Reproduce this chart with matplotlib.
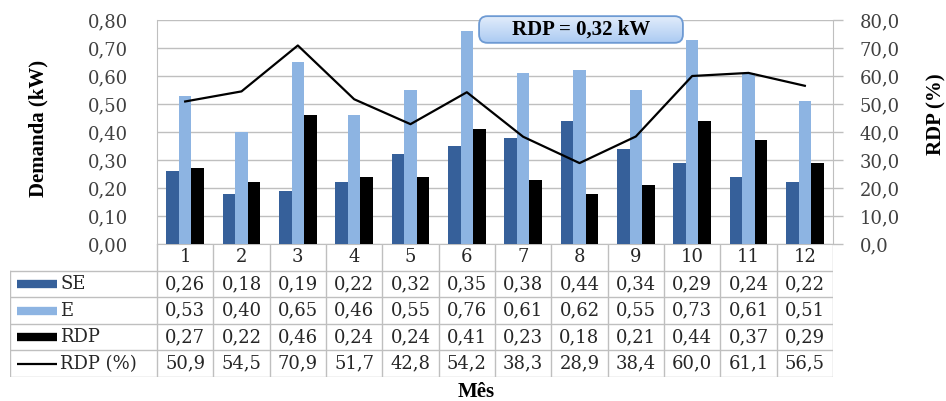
import numpy as np
import matplotlib
matplotlib.use("Agg")
import matplotlib.pyplot as plt
from matplotlib.patches import FancyBboxPatch

meses = ["1", "2", "3", "4", "5", "6", "7", "8", "9", "10", "11", "12"]
se = [0.26, 0.18, 0.19, 0.22, 0.32, 0.35, 0.38, 0.44, 0.34, 0.29, 0.24, 0.22]
e = [0.53, 0.40, 0.65, 0.46, 0.55, 0.76, 0.61, 0.62, 0.55, 0.73, 0.61, 0.51]
rdp = [0.27, 0.22, 0.46, 0.24, 0.24, 0.41, 0.23, 0.18, 0.21, 0.44, 0.37, 0.29]
rdp_pct = [50.9, 54.5, 70.9, 51.7, 42.8, 54.2, 38.3, 28.9, 38.4, 60.0, 61.1, 56.5]
rdp_media = 0.32

cor_se = "#36609a"
cor_e = "#8db4e2"
cor_rdp = "#000000"
cinza = "#bfbfbf"
texto = "#404040"

W, H = 946, 401
fig = plt.figure(figsize=(W / 100, H / 100), dpi=100)

# area do grafico
ax = fig.add_axes([157 / W, 1 - 244 / H, 676 / W, 224 / H])
x = np.arange(len(meses))
bw = 0.224
ax.bar(x - bw, se, bw, color=cor_se, zorder=3)
ax.bar(x, e, bw, color=cor_e, zorder=3)
ax.bar(x + bw, rdp, bw, color=cor_rdp, zorder=3)
ax.set_xlim(-0.5, 11.5)
ax.set_ylim(0, 0.8)
ax.set_yticks(np.arange(0, 0.81, 0.1))
ax.set_yticklabels([f"{v:.2f}".replace(".", ",") for v in np.arange(0, 0.81, 0.1)])
ax.set_xticks([])
ax.grid(axis="y", color=cinza, lw=1, zorder=0)
for s in ax.spines.values():
    s.set_color(cinza)
ax.spines["top"].set_visible(False)
ax.tick_params(axis="y", length=0, pad=21, labelsize=13, labelcolor=texto)
for t in ax.get_yticklabels():
    t.set_family("DejaVu Serif")

ax2 = ax.twinx()
ax2.plot(x, rdp_pct, color="black", lw=1.6, zorder=4)
ax2.set_ylim(0, 80)
ax2.set_yticks(np.arange(0, 81, 10))
ax2.set_yticklabels([f"{v:.1f}".replace(".", ",") for v in np.arange(0, 81, 10)])
for s in ax2.spines.values():
    s.set_visible(False)
ax2.tick_params(axis="y", length=7, width=1, color=cinza, pad=12,
                labelsize=13, labelcolor=texto)
for t in ax2.get_yticklabels():
    t.set_family("DejaVu Serif")
ax.spines["right"].set_visible(True)

fig.text(38 / W, 1 - 128 / H, "Demanda (kW)", rotation=90, ha="center", va="center",
         family="Liberation Serif", weight="bold", fontsize=15)
fig.text(936 / W, 1 - 114 / H, "RDP (%)", rotation=90, ha="center", va="center",
         family="Liberation Serif", weight="bold", fontsize=15)
fig.text(476 / W, 1 - 392 / H, "Mês", ha="center", va="center",
         family="Liberation Serif", weight="bold", fontsize=15)

# tabela de dados abaixo do grafico
px = 676 / 12
lab_w = 147 / px
tax = fig.add_axes([10 / W, 1 - 377 / H, 823 / W, 133 / H])
tax.set_xlim(-0.5 - lab_w, 11.5)
tax.set_ylim(5, 0)
tax.axis("off")
x0 = -0.5 - lab_w
for k in range(13):
    tax.plot([k - 0.5, k - 0.5], [0, 5], color=cinza, lw=1)
tax.plot([x0, x0], [1, 5], color=cinza, lw=1)
for r in range(1, 6):
    tax.plot([x0, 11.5], [r, r], color=cinza, lw=1)

for i, m in enumerate(meses):
    tax.text(i, 0.5, m, ha="center", va="center", family="DejaVu Serif",
             fontsize=13, color="#262626")

linhas = [("SE", se, "{:.2f}", cor_se, 6),
          ("E", e, "{:.2f}", cor_e, 6),
          ("RDP", rdp, "{:.2f}", cor_rdp, 6),
          ("RDP (%)", rdp_pct, "{:.1f}", "black", 1.6)]
for r, (nome, vals, fmt, cor, lw) in enumerate(linhas, start=1):
    yc = r + 0.5
    tax.plot([x0 + 7 / px, x0 + 47 / px], [yc, yc], color=cor, lw=lw,
             solid_capstyle="butt")
    tax.text(x0 + 50 / px, yc, nome, ha="left", va="center", family="DejaVu Serif",
             fontsize=13, color="#262626")
    for i, v in enumerate(vals):
        tax.text(i, yc, fmt.format(v).replace(".", ","), ha="center", va="center",
                 family="DejaVu Serif", fontsize=13, color="#262626")

# caixa com a media do RDP
bax = fig.add_axes([477 / W, 1 - 44 / H, 208 / W, 29 / H])
bax.set_xlim(0, 1)
bax.set_ylim(0, 1)
bax.axis("off")
caixa = FancyBboxPatch((0.01, 0.04), 0.98, 0.92,
                       boxstyle="round,pad=0,rounding_size=0.04",
                       mutation_aspect=208 / 29,
                       fc="none", ec="#6d9ad3", lw=1.3, zorder=3)
bax.add_patch(caixa)
grad = np.linspace(0, 1, 64).reshape(-1, 1)
cmap = matplotlib.colors.LinearSegmentedColormap.from_list("cx", ["#a9c9f2", "#e4eefb"])
img = bax.imshow(grad, extent=[0, 1, 0, 1], origin="lower", aspect="auto",
                 cmap=cmap, zorder=2)
img.set_clip_path(caixa)
bax.text(0.5, 0.5, "RDP = " + f"{rdp_media:.2f}".replace(".", ",") + " kW",
         ha="center", va="center", family="Liberation Serif", weight="bold",
         fontsize=15, zorder=4)

fig.savefig("out.png", dpi=100)
